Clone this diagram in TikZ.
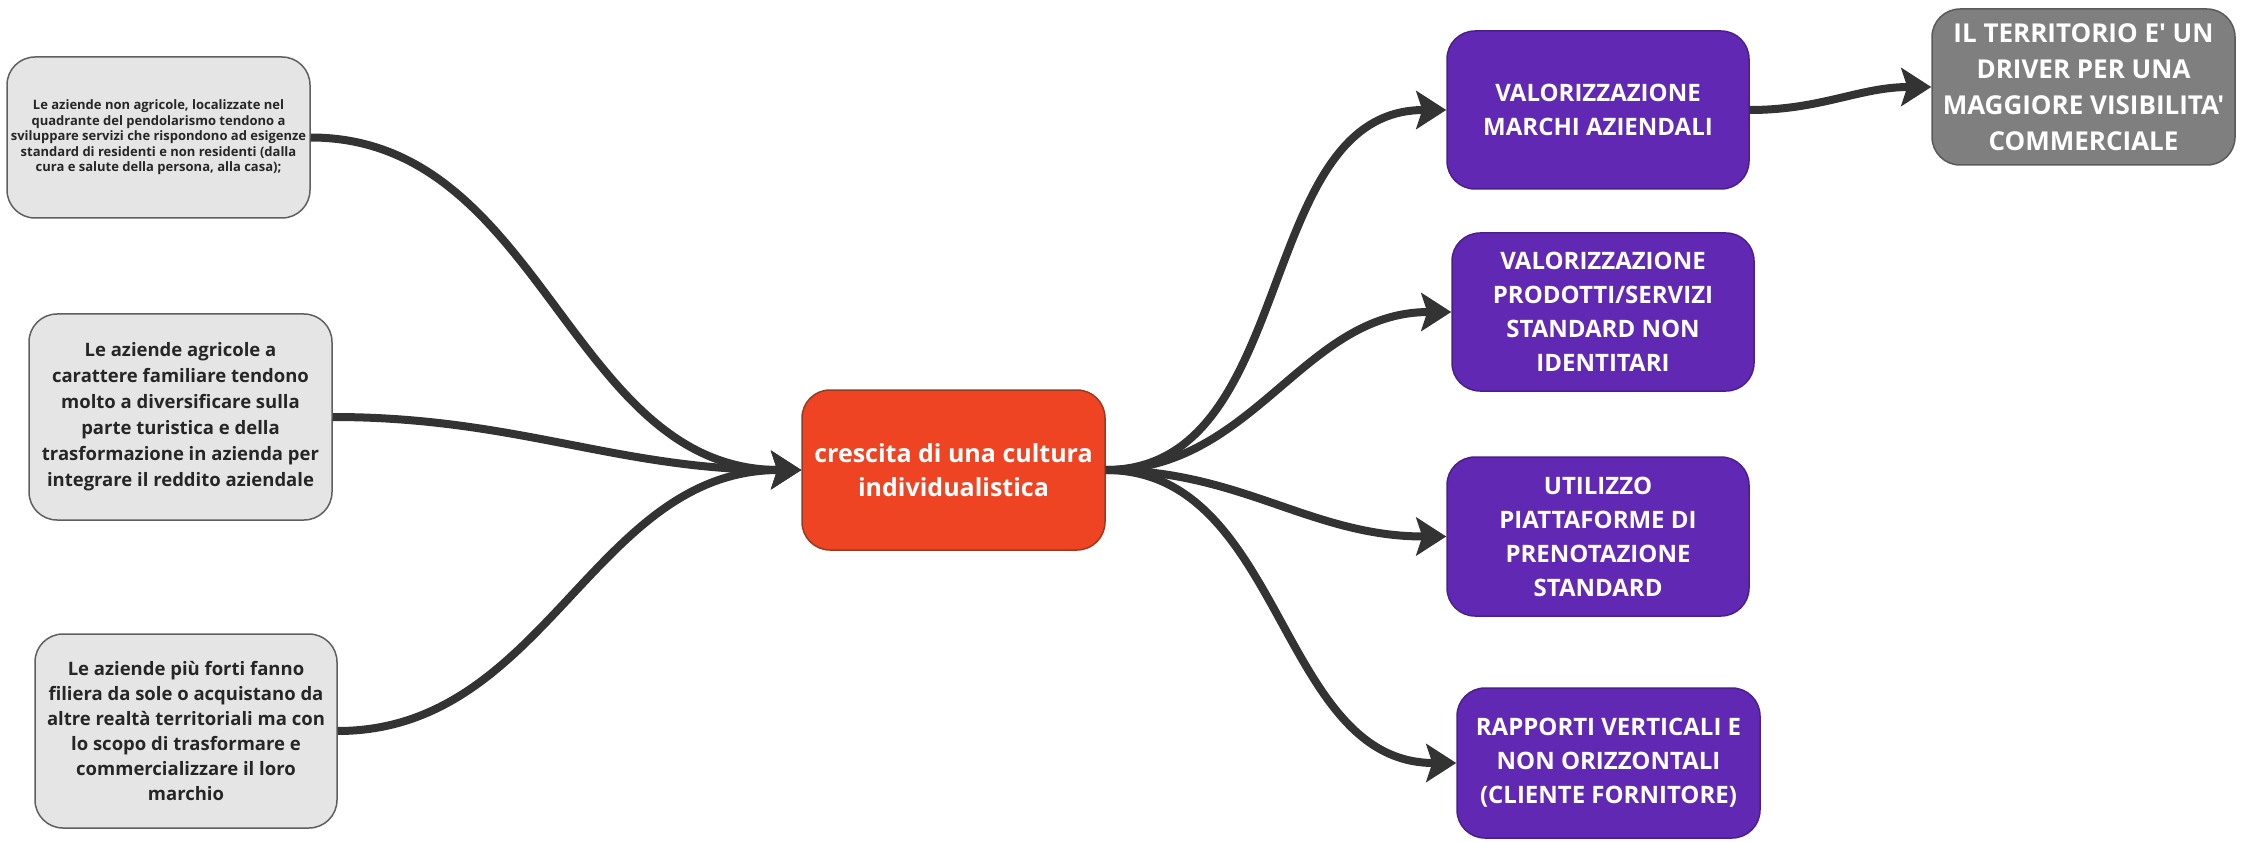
\documentclass[tikz,border=0pt]{standalone}
\usepackage{fontspec}
\setmainfont{Open Sans}
\newfontfamily\osplain{Open Sans}
\usetikzlibrary{arrows.meta}
\definecolor{boxgray}{HTML}{E5E5E5}
\definecolor{boxborder}{HTML}{5F5F5F}
\definecolor{textdark}{HTML}{262626}
\definecolor{centerred}{HTML}{EE4423}
\definecolor{centerborder}{HTML}{9A3A22}
\definecolor{purp}{HTML}{6128B4}
\definecolor{purpborder}{HTML}{4A1F8C}
\definecolor{darkgray}{HTML}{7F7F7F}
\definecolor{darkgrayborder}{HTML}{5A5A5A}
\definecolor{arrowc}{HTML}{333333}
\tikzset{
  box/.style={rectangle, rounded corners=28pt, align=center, inner sep=0pt, line width=1.5pt},
  graybox/.style={box, fill=boxgray, draw=boxborder, text=textdark},
  centerbox/.style={box, fill=centerred, draw=centerborder, text=white,
    font=\bfseries\fontsize{25}{34}\selectfont},
  purplebox/.style={box, fill=purp, draw=purpborder, text=white,
    font=\bfseries\fontsize{24}{34}\selectfont},
  greybox/.style={box, fill=darkgray, draw=darkgrayborder, text=white,
    font=\osplain\bfseries\fontsize{26}{36}\selectfont},
  conn/.style={line width=8pt, draw=arrowc, -{Stealth[length=30pt,width=38pt,inset=6pt]}},
}
\begin{document}
\begin{tikzpicture}[x=1pt,y=-1pt]
\useasboundingbox (0,0) rectangle (2246,842);

\node[graybox, minimum width=303pt, minimum height=161pt,
  font=\bfseries\fontsize{13}{15.5}\selectfont] (b1) at (158.5,137.5)
  {Le aziende non agricole, localizzate nel\\
   quadrante del pendolarismo tendono a\\
   sviluppare servizi che rispondono ad esigenze\\
   standard di residenti e non residenti (dalla\\
   cura e salute della persona, alla casa);};

\node[graybox, minimum width=303pt, minimum height=206pt,
  font=\bfseries\fontsize{18.5}{26}\selectfont] (b2) at (180.5,417)
  {Le aziende agricole a\\
   carattere familiare tendono\\
   molto a diversificare sulla\\
   parte turistica e della\\
   trasformazione in azienda per\\
   integrare il reddito aziendale};

\node[graybox, minimum width=302pt, minimum height=194pt,
  font=\bfseries\fontsize{18.5}{25}\selectfont] (b3) at (186,731)
  {Le aziende più forti fanno\\
   filiera da sole o acquistano da\\
   altre realtà territoriali ma con\\
   lo scopo di trasformare e\\
   commercializzare il loro\\
   marchio};

\node[centerbox, minimum width=303pt, minimum height=160pt] (c) at (953.5,470)
  {crescita di una cultura\\ individualistica};

\node[purplebox, minimum width=302pt, minimum height=158pt] (p1) at (1598,110)
  {VALORIZZAZIONE\\ MARCHI AZIENDALI};
\node[purplebox, minimum width=302pt, minimum height=158pt] (p2) at (1603,312)
  {VALORIZZAZIONE\\ PRODOTTI/SERVIZI\\ STANDARD NON\\ IDENTITARI};
\node[purplebox, minimum width=302pt, minimum height=159pt] (p3) at (1598,536.5)
  {UTILIZZO\\ PIATTAFORME DI\\ PRENOTAZIONE\\ STANDARD};
\node[purplebox, minimum width=303pt, minimum height=150pt] (p4) at (1608.5,763)
  {RAPPORTI VERTICALI E\\ NON ORIZZONTALI\\ (CLIENTE FORNITORE)};

\node[greybox, minimum width=303pt, minimum height=156pt] (g) at (2083.5,87)
  {IL TERRITORIO E' UN\\ DRIVER PER UNA\\ MAGGIORE VISIBILITA'\\ COMMERCIALE};

\draw[conn] (b1.east) to[out=0,in=180] (c.west);
\draw[conn] (b2.east) to[out=0,in=180] (c.west);
\draw[conn] (b3.east) to[out=0,in=180] (c.west);

\draw[conn] (c.east) to[out=0,in=180] (p1.west);
\draw[conn] (c.east) to[out=0,in=180] (p2.west);
\draw[conn] (c.east) to[out=0,in=180] (p3.west);
\draw[conn] (c.east) to[out=0,in=180] (p4.west);

\draw[conn] (p1.east) to[out=0,in=180] (g.west);
\end{tikzpicture}
\end{document}
